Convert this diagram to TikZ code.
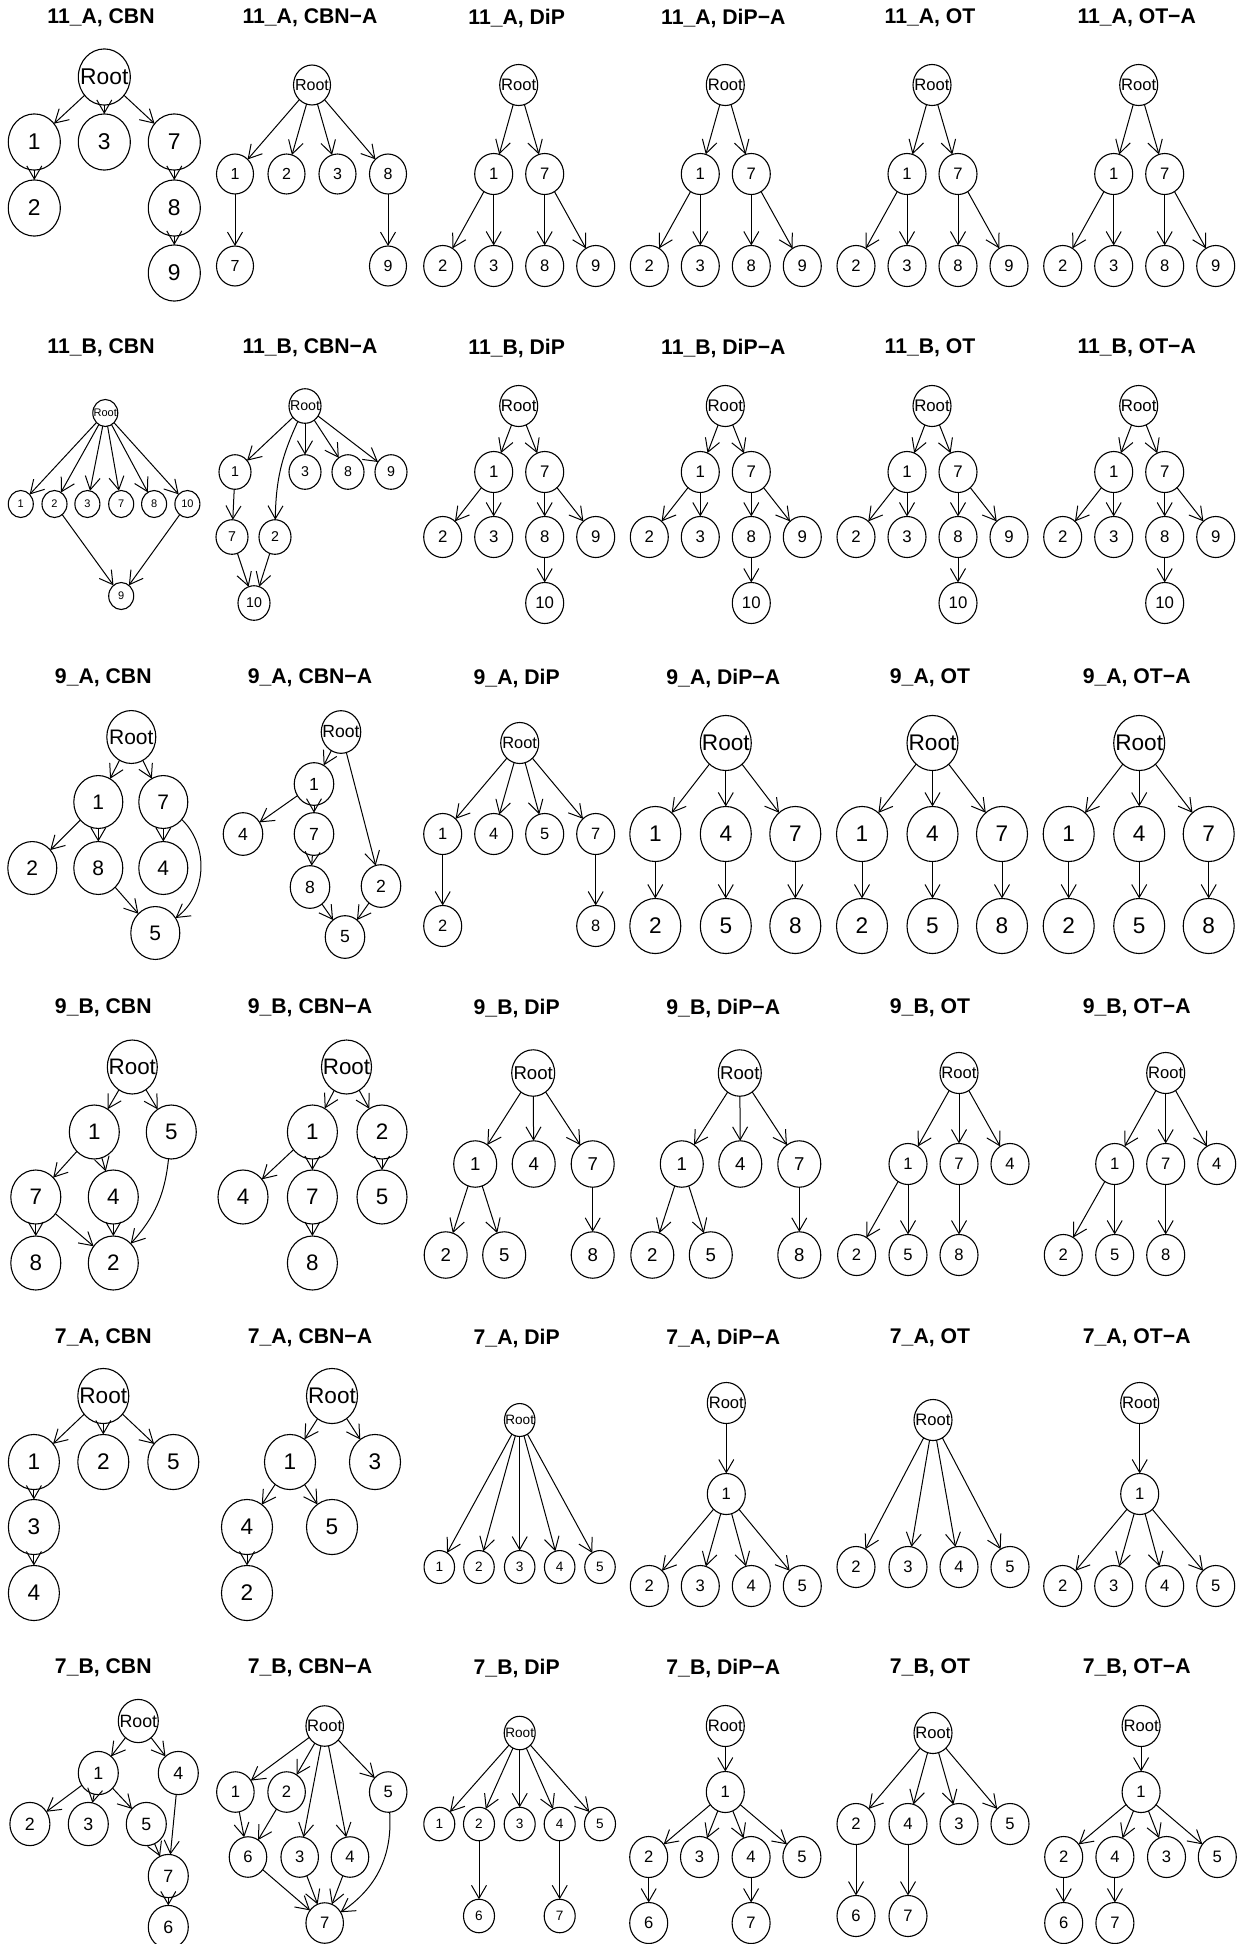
\documentclass[tikz,border=0pt]{standalone}
\usepackage{fontspec}
\setmainfont{Liberation Sans}
\usetikzlibrary{arrows.meta, shapes.geometric}

\tikzset{
  vtx/.style={ellipse, draw, line width=0.55pt, inner sep=0pt, outer sep=0pt,
    execute at begin node={\hbox to 0pt\bgroup\hss}, execute at end node={\hss\egroup}},
  sz/.style 2 args={every node/.style={vtx, minimum width=#1pt, minimum height=1.08*#1pt, font=\fontsize{#2}{#2}\selectfont}},
  edge/.style={line width=0.5pt, -{Straight Barb[length=6.5pt,width=7.5pt]}},
  ttl/.style={font=\bfseries\fontsize{10.6}{12}\selectfont},
}

\begin{document}
\begin{tikzpicture}[x=0.5pt, y=-0.5pt]
\path[fill=white, use as bounding box] (0,0) rectangle (1240,1944);

% 11_A
\node[ttl] (A1-t) at (101,18) {11\_A, CBN};
\begin{scope}[shift={(103.3,0)}, sz={26}{11.4}]
  \node (A1-R) at (1,77) {Root};
  \node (A1-1) at (-69,142) {1};
  \node (A1-3) at (1,142) {3};
  \node (A1-7) at (71,142) {7};
  \node (A1-2) at (-69,208) {2};
  \node (A1-8) at (71,208) {8};
  \node (A1-9) at (71,273) {9};
  \foreach \a/\b in {R/1, R/3, R/7, 1/2, 7/8, 8/9} \draw[edge] (A1-\a) -- (A1-\b);
\end{scope}
\node[ttl] (A2-t) at (310,18) {11\_A, CBN−A};
\begin{scope}[shift={(310,0)}, sz={18.5}{8}]
  \node (A2-R) at (2,85) {Root};
  \node (A2-1) at (-75,174) {1};
  \node (A2-2) at (-23.5,174) {2};
  \node (A2-3) at (27.5,174) {3};
  \node (A2-8) at (78,174) {8};
  \node (A2-7) at (-75,266) {7};
  \node (A2-9) at (78,266) {9};
  \foreach \a/\b in {R/1, R/2, R/3, R/8, 1/7, 8/9} \draw[edge] (A2-\a) -- (A2-\b);
\end{scope}
\foreach \c/\cx/\m in {3/516.7/DiP, 4/723.3/DiP−A, 5/930/OT, 6/1136.7/OT−A} {
  \node[ttl] (A\c-t) at (\cx,18) {11\_A, \m};
  \begin{scope}[shift={(\cx,0)}, sz={19}{8.3}]
    \node (A\c-R) at (2,85) {Root};
    \node (A\c-1) at (-23,174) {1};
    \node (A\c-7) at (28,174) {7};
    \node (A\c-2) at (-74,266) {2};
    \node (A\c-3) at (-23,266) {3};
    \node (A\c-8) at (28,266) {8};
    \node (A\c-9) at (79,266) {9};
    \foreach \a/\b in {R/1, R/7, 1/2, 1/3, 7/8, 7/9} \draw[edge] (A\c-\a) -- (A\c-\b);
  \end{scope}
}

% 11_B
\begin{scope}[shift={(0,330)}]
\node[ttl] (B1-t) at (101,18) {11\_B, CBN};
\begin{scope}[shift={(103.3,0)}, sz={12.5}{5.5}]
  \node (B1-R) at (2,83) {Root};
  \node (B1-1) at (-82.5,174) {1};
  \node (B1-2) at (-48.8,174) {2};
  \node (B1-3) at (-15.9,174) {3};
  \node (B1-7) at (17.9,174) {7};
  \node (B1-8) at (50.8,174) {8};
  \node (B1-10) at (84.1,174) {10};
  \node (B1-9) at (17.9,266) {9};
  \foreach \a/\b in {R/1, R/2, R/3, R/7, R/8, R/10, 2/9, 10/9} \draw[edge] (B1-\a) -- (B1-\b);
\end{scope}
\node[ttl] (B2-t) at (310,18) {11\_B, CBN−A};
\begin{scope}[shift={(310,0)}, sz={16}{7.1}]
  \node (B2-R) at (-5,76) {Root};
  \node (B2-1) at (-75,142) {1};
  \node (B2-3) at (-5,142) {3};
  \node (B2-8) at (38,142) {8};
  \node (B2-9) at (81,142) {9};
  \node (B2-7) at (-78,207) {7};
  \node (B2-2) at (-35,207) {2};
  \node (B2-10) at (-56,273) {10};
  \foreach \a/\b in {R/1, R/3, R/8, R/9, 1/7, 7/10, 2/10} \draw[edge] (B2-\a) -- (B2-\b);
  \draw[edge] (B2-R) to[bend right=12] (B2-2);
\end{scope}
\foreach \c/\cx/\m in {3/516.7/DiP, 4/723.3/DiP−A, 5/930/OT, 6/1136.7/OT−A} {
  \node[ttl] (B\c-t) at (\cx,18) {11\_B, \m};
  \begin{scope}[shift={(\cx,0)}, sz={19}{8.4}]
    \node (B\c-R) at (2,76) {Root};
    \node (B\c-1) at (-23,142) {1};
    \node (B\c-7) at (28,142) {7};
    \node (B\c-2) at (-74,207) {2};
    \node (B\c-3) at (-23,207) {3};
    \node (B\c-8) at (28,207) {8};
    \node (B\c-9) at (79,207) {9};
    \node (B\c-10) at (28,273) {10};
    \foreach \a/\b in {R/1, R/7, 1/2, 1/3, 7/8, 7/9, 8/10} \draw[edge] (B\c-\a) -- (B\c-\b);
  \end{scope}
}
\end{scope}

% 9_A
\begin{scope}[shift={(0,660)}]
\node[ttl] (C1-t) at (103.3,18) {9\_A, CBN};
\begin{scope}[shift={(103.3,0)}, sz={24.5}{10.5}]
  \node (C1-R) at (28,77) {Root};
  \node (C1-1) at (-5,142) {1};
  \node (C1-7) at (60,142) {7};
  \node (C1-2) at (-71,208) {2};
  \node (C1-8) at (-5,208) {8};
  \node (C1-4) at (60,208) {4};
  \node (C1-5) at (52,273) {5};
  \foreach \a/\b in {R/1, R/7, 1/2, 1/8, 7/4, 8/5} \draw[edge] (C1-\a) -- (C1-\b);
  \draw[edge] (C1-7) to[bend left=50] (C1-5);
\end{scope}
\node[ttl] (C2-t) at (310,18) {9\_A, CBN−A};
\begin{scope}[shift={(310,0)}, sz={19.75}{8.8}]
  \node (C2-R) at (31,72) {Root};
  \node (C2-1) at (4,124) {1};
  \node (C2-4) at (-67,174) {4};
  \node (C2-7) at (4,174) {7};
  \node (C2-8) at (0,227) {8};
  \node (C2-2) at (71,226) {2};
  \node (C2-5) at (35,277) {5};
  \foreach \a/\b in {R/1, R/2, 1/4, 1/7, 7/8, 8/5, 2/5} \draw[edge] (C2-\a) -- (C2-\b);
\end{scope}
\node[ttl] (C3-t) at (516.7,18) {9\_A, DiP};
\begin{scope}[shift={(516.7,0)}, sz={19}{8.2}]
  \node (C3-R) at (3,83) {Root};
  \node (C3-1) at (-74,174) {1};
  \node (C3-4) at (-23,174) {4};
  \node (C3-5) at (28,174) {5};
  \node (C3-7) at (79,174) {7};
  \node (C3-2) at (-74,266) {2};
  \node (C3-8) at (79,266) {8};
  \foreach \a/\b in {R/1, R/4, R/5, R/7, 1/2, 7/8} \draw[edge] (C3-\a) -- (C3-\b);
\end{scope}
\foreach \c/\cx/\m in {4/723.3/DiP−A, 5/930/OT, 6/1136.7/OT−A} {
  \node[ttl] (C\c-t) at (\cx,18) {9\_A, \m};
  \begin{scope}[shift={(\cx,0)}, sz={25.5}{11.3}]
    \node (C\c-R) at (2.5,83) {Root};
    \node (C\c-1) at (-68,174) {1};
    \node (C\c-4) at (2.5,174) {4};
    \node (C\c-7) at (72,174) {7};
    \node (C\c-2) at (-68,266) {2};
    \node (C\c-5) at (2.5,266) {5};
    \node (C\c-8) at (72,266) {8};
    \foreach \a/\b in {R/1, R/4, R/7, 1/2, 4/5, 7/8} \draw[edge] (C\c-\a) -- (C\c-\b);
  \end{scope}
}
\end{scope}

% 9_B
\begin{scope}[shift={(0,990)}]
\node[ttl] (D1-t) at (103.3,18) {9\_B, CBN};
\begin{scope}[shift={(103.3,0)}, sz={25}{11.2}]
  \node (D1-R) at (29,77) {Root};
  \node (D1-1) at (-9,142) {1};
  \node (D1-5) at (68,142) {5};
  \node (D1-7) at (-67.5,207) {7};
  \node (D1-4) at (10,207) {4};
  \node (D1-8) at (-67.5,273) {8};
  \node (D1-2) at (10,273) {2};
  \foreach \a/\b in {R/1, R/5, 1/7, 1/4, 7/8, 7/2, 4/2} \draw[edge] (D1-\a) -- (D1-\b);
  \draw[edge] (D1-5) to[bend left=18] (D1-2);
\end{scope}
\node[ttl] (D2-t) at (310,18) {9\_B, CBN−A};
\begin{scope}[shift={(310,0)}, sz={25}{11.2}]
  \node (D2-R) at (36.5,77) {Root};
  \node (D2-1) at (2.4,142) {1};
  \node (D2-2) at (72,142) {2};
  \node (D2-4) at (-67,207) {4};
  \node (D2-7) at (2.4,207) {7};
  \node (D2-5) at (72,207) {5};
  \node (D2-8) at (2.4,273) {8};
  \foreach \a/\b in {R/1, R/2, 1/4, 1/7, 2/5, 7/8} \draw[edge] (D2-\a) -- (D2-\b);
\end{scope}
\foreach \c/\cx/\m in {3/516.7/DiP, 4/723.3/DiP−A} {
  \node[ttl] (D\c-t) at (\cx,18) {9\_B, \m};
  \begin{scope}[shift={(\cx,0)}, sz={21.5}{9.3}]
    \node (D\c-R) at (16.5,83) {Root};
    \node (D\c-1) at (-41.5,174) {1};
    \node (D\c-4) at (17,174) {4};
    \node (D\c-7) at (76,174) {7};
    \node (D\c-2) at (-71,265) {2};
    \node (D\c-5) at (-12.5,265) {5};
    \node (D\c-8) at (76,265) {8};
    \foreach \a/\b in {R/1, R/4, R/7, 1/2, 1/5, 7/8} \draw[edge] (D\c-\a) -- (D\c-\b);
  \end{scope}
}
\foreach \c/\cx/\m in {5/930/OT, 6/1136.7/OT−A} {
  \node[ttl] (D\c-t) at (\cx,18) {9\_B, \m};
  \begin{scope}[shift={(\cx,0)}, sz={19}{8.3}]
    \node (D\c-R) at (29,83) {Root};
    \node (D\c-1) at (-22,174) {1};
    \node (D\c-7) at (29,174) {7};
    \node (D\c-4) at (80,174) {4};
    \node (D\c-2) at (-73.4,265) {2};
    \node (D\c-5) at (-22,265) {5};
    \node (D\c-8) at (29,265) {8};
    \foreach \a/\b in {R/1, R/7, R/4, 1/2, 1/5, 7/8} \draw[edge] (D\c-\a) -- (D\c-\b);
  \end{scope}
}
\end{scope}

% 7_A
\begin{scope}[shift={(0,1320)}]
\node[ttl] (E1-t) at (103.3,18) {7\_A, CBN};
\begin{scope}[shift={(103.3,0)}, sz={25.5}{11.3}]
  \node (E1-R) at (0,76) {Root};
  \node (E1-1) at (-69.4,142) {1};
  \node (E1-2) at (0,142) {2};
  \node (E1-5) at (70,142) {5};
  \node (E1-3) at (-69.4,207) {3};
  \node (E1-4) at (-69.4,273) {4};
  \foreach \a/\b in {R/1, R/2, R/5, 1/3, 3/4} \draw[edge] (E1-\a) -- (E1-\b);
\end{scope}
\node[ttl] (E2-t) at (310,18) {7\_A, CBN−A};
\begin{scope}[shift={(310,0)}, sz={25.5}{11.3}]
  \node (E2-R) at (22,76) {Root};
  \node (E2-1) at (-20,142) {1};
  \node (E2-3) at (65,142) {3};
  \node (E2-4) at (-63,207) {4};
  \node (E2-5) at (22,207) {5};
  \node (E2-2) at (-63,273) {2};
  \foreach \a/\b in {R/1, R/3, 1/4, 1/5, 4/2} \draw[edge] (E2-\a) -- (E2-\b);
\end{scope}
\node[ttl] (E3-t) at (516.7,18) {7\_A, DiP};
\begin{scope}[shift={(516.7,0)}, sz={15.25}{6.8}]
  \node (E3-R) at (3,100) {Root};
  \node (E3-1) at (-77.4,247) {1};
  \node (E3-2) at (-37.7,247) {2};
  \node (E3-3) at (3,247) {3};
  \node (E3-4) at (43,247) {4};
  \node (E3-5) at (83.3,247) {5};
  \foreach \b in {1,...,5} \draw[edge] (E3-R) -- (E3-\b);
\end{scope}
\foreach \c/\cx/\m in {4/723.3/DiP−A, 6/1136.7/OT−A} {
  \node[ttl] (E\c-t) at (\cx,18) {7\_A, \m};
  \begin{scope}[shift={(\cx,0)}, sz={19}{8.3}]
    \node (E\c-R) at (3,83) {Root};
    \node (E\c-1) at (3,174) {1};
    \node (E\c-2) at (-74,266) {2};
    \node (E\c-3) at (-23,266) {3};
    \node (E\c-4) at (28,266) {4};
    \node (E\c-5) at (79,266) {5};
    \foreach \a/\b in {R/1, 1/2, 1/3, 1/4, 1/5} \draw[edge] (E\c-\a) -- (E\c-\b);
  \end{scope}
}
\node[ttl] (E5-t) at (930,18) {7\_A, OT};
\begin{scope}[shift={(930,0)}, sz={19}{8.3}]
  \node (E5-R) at (3,100) {Root};
  \node (E5-2) at (-74,247) {2};
  \node (E5-3) at (-22,247) {3};
  \node (E5-4) at (29,247) {4};
  \node (E5-5) at (80,247) {5};
  \foreach \b in {2,...,5} \draw[edge] (E5-R) -- (E5-\b);
\end{scope}
\end{scope}

% 7_B
\begin{scope}[shift={(0,1650)}]
\node[ttl] (F1-t) at (103.3,18) {7\_B, CBN};
\begin{scope}[shift={(103.3,0)}, sz={20}{8.9}]
  \node (F1-R) at (35,71) {Root};
  \node (F1-1) at (-5,123) {1};
  \node (F1-4) at (75,123) {4};
  \node (F1-2) at (-73.4,174) {2};
  \node (F1-3) at (-15,174) {3};
  \node (F1-5) at (43,174) {5};
  \node (F1-7) at (65,226) {7};
  \node (F1-6) at (65,277) {6};
  \foreach \a/\b in {R/1, R/4, 1/2, 1/3, 1/5, 5/7, 4/7, 7/6} \draw[edge] (F1-\a) -- (F1-\b);
\end{scope}
\node[ttl] (F2-t) at (310,18) {7\_B, CBN−A};
\begin{scope}[shift={(310,0)}, sz={18.75}{8.3}]
  \node (F2-R) at (14.7,76) {Root};
  \node (F2-1) at (-74.6,142) {1};
  \node (F2-2) at (-23.4,142) {2};
  \node (F2-5) at (78.2,142) {5};
  \node (F2-6) at (-62,207) {6};
  \node (F2-3) at (-10.3,207) {3};
  \node (F2-4) at (40,207) {4};
  \node (F2-7) at (14.7,273) {7};
  \foreach \a/\b in {R/1, R/2, R/3, R/4, R/5, 1/6, 2/6, 6/7, 3/7, 4/7} \draw[edge] (F2-\a) -- (F2-\b);
  \draw[edge] (F2-5) to[bend left=30] (F2-7);
\end{scope}
\node[ttl] (F3-t) at (516.7,18) {7\_B, DiP};
\begin{scope}[shift={(516.7,0)}, sz={15.5}{6.8}]
  \node (F3-R) at (3,83) {Root};
  \node (F3-1) at (-77.4,174) {1};
  \node (F3-2) at (-37.7,174) {2};
  \node (F3-3) at (3,174) {3};
  \node (F3-4) at (43,174) {4};
  \node (F3-5) at (83.3,174) {5};
  \node (F3-6) at (-37.7,266) {6};
  \node (F3-7) at (43,266) {7};
  \foreach \a/\b in {R/1, R/2, R/3, R/4, R/5, 2/6, 4/7} \draw[edge] (F3-\a) -- (F3-\b);
\end{scope}
\node[ttl] (F4-t) at (723.3,18) {7\_B, DiP−A};
\begin{scope}[shift={(723.3,0)}, sz={19}{8.3}]
  \node (F4-R) at (2,76) {Root};
  \node (F4-1) at (2,142) {1};
  \node (F4-2) at (-74.6,207) {2};
  \node (F4-3) at (-23.8,207) {3};
  \node (F4-4) at (27.8,207) {4};
  \node (F4-5) at (78.6,207) {5};
  \node (F4-6) at (-74.6,273) {6};
  \node (F4-7) at (27.8,273) {7};
  \foreach \a/\b in {R/1, 1/2, 1/3, 1/4, 1/5, 2/6, 4/7} \draw[edge] (F4-\a) -- (F4-\b);
\end{scope}
\node[ttl] (F5-t) at (930,18) {7\_B, OT};
\begin{scope}[shift={(930,0)}, sz={19}{8.3}]
  \node (F5-R) at (3,83) {Root};
  \node (F5-2) at (-74,174) {2};
  \node (F5-4) at (-22,174) {4};
  \node (F5-3) at (29,174) {3};
  \node (F5-5) at (80,174) {5};
  \node (F5-6) at (-74,266) {6};
  \node (F5-7) at (-22,266) {7};
  \foreach \a/\b in {R/2, R/4, R/3, R/5, 2/6, 4/7} \draw[edge] (F5-\a) -- (F5-\b);
\end{scope}
\node[ttl] (F6-t) at (1136.7,18) {7\_B, OT−A};
\begin{scope}[shift={(1136.7,0)}, sz={19}{8.3}]
  \node (F6-R) at (4.4,76) {Root};
  \node (F6-1) at (4.4,142) {1};
  \node (F6-2) at (-73,207) {2};
  \node (F6-4) at (-21.8,207) {4};
  \node (F6-3) at (29.8,207) {3};
  \node (F6-5) at (80.6,207) {5};
  \node (F6-6) at (-73,273) {6};
  \node (F6-7) at (-21.8,273) {7};
  \foreach \a/\b in {R/1, 1/2, 1/4, 1/3, 1/5, 2/6, 4/7} \draw[edge] (F6-\a) -- (F6-\b);
\end{scope}
\end{scope}
\end{tikzpicture}
\end{document}
